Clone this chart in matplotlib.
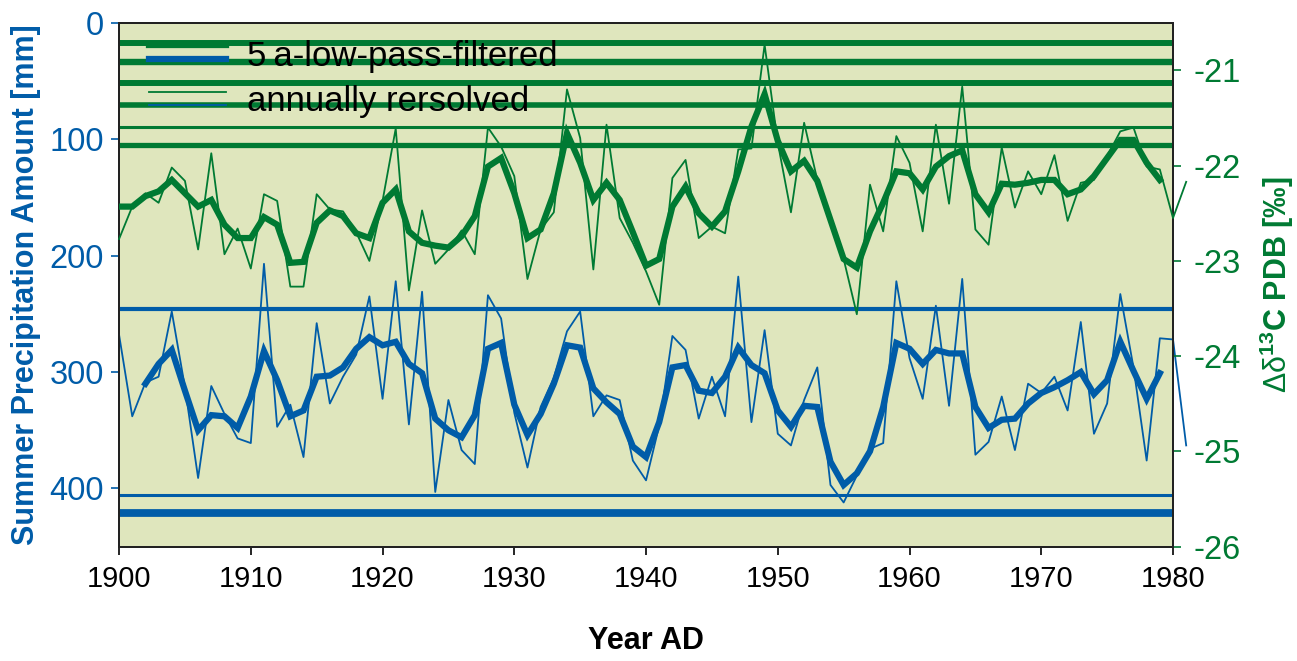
import numpy as np
import matplotlib
matplotlib.use('Agg')
import matplotlib.pyplot as plt

plt.rcParams['font.family'] = ['Liberation Sans', 'DejaVu Sans']
plt.rcParams['axes.unicode_minus'] = False
plt.rcParams['mathtext.fontset'] = 'custom'
plt.rcParams['mathtext.rm'] = 'Liberation Sans'
plt.rcParams['mathtext.bf'] = 'Liberation Sans:bold'
plt.rcParams['mathtext.it'] = 'Liberation Sans:italic'

GREEN = '#007a33'
BLUE = '#005ca8'
BG = '#dfe6bd'

# annual series, 1900-1981
years_annual = list(range(1900, 1982))
d13c_annual = [
    -22.77, -22.43, -22.29, -22.39, -22.02, -22.16, -22.88, -21.87, -22.93, -22.66,
    -23.08, -22.30, -22.37, -23.27, -23.27, -22.30, -22.46, -22.48, -22.70, -23.00,
    -22.37, -21.61, -23.31, -22.47, -23.03, -22.88, -22.68, -22.93, -21.60, -21.80,
    -22.11, -23.19, -22.67, -22.49, -21.20, -21.71, -23.09, -21.57, -22.55, -22.81,
    -23.11, -23.46, -22.13, -21.94, -22.76, -22.64, -22.71, -21.83, -21.82, -20.73,
    -21.76, -22.49, -21.55, -22.15, -22.53, -22.98, -23.56, -22.20, -22.69, -21.69,
    -21.97, -22.69, -21.57, -22.40, -21.17, -22.67, -22.83, -21.81, -22.44, -22.06,
    -22.30, -21.89, -22.58, -22.18, -22.15, -21.90, -21.64, -21.60, -22.01, -22.04,
    -22.55, -22.17,
]
precip_annual = [
    268, 338, 309, 304, 248, 313, 391, 312, 336, 357,
    361, 207, 347, 328, 373, 258, 327, 304, 285, 235,
    323, 222, 345, 231, 403, 324, 367, 379, 234, 254,
    335, 382, 330, 305, 265, 248, 338, 320, 324, 376,
    393, 346, 269, 281, 340, 304, 338, 218, 343, 264,
    353, 363, 324, 296, 397, 412, 389, 366, 361, 222,
    288, 323, 243, 329, 220, 371, 360, 321, 367, 310,
    318, 304, 333, 257, 353, 327, 233, 296, 376, 271,
    272, 363,
]

# 5-year low-pass filtered series
years_d13c_filt = list(range(1900, 1980))
d13c_filt = [
    -22.43, -22.43, -22.32, -22.27, -22.15, -22.29, -22.43, -22.36, -22.62, -22.76,
    -22.76, -22.54, -22.62, -23.02, -23.01, -22.60, -22.47, -22.53, -22.71, -22.76,
    -22.39, -22.25, -22.69, -22.81, -22.84, -22.86, -22.74, -22.53, -22.01, -21.92,
    -22.29, -22.76, -22.67, -22.29, -21.66, -21.97, -22.36, -22.18, -22.36, -22.70,
    -23.05, -22.98, -22.43, -22.22, -22.50, -22.64, -22.48, -22.06, -21.59, -21.25,
    -21.74, -22.06, -21.95, -22.16, -22.57, -22.98, -23.07, -22.69, -22.39, -22.06,
    -22.08, -22.25, -22.01, -21.90, -21.84, -22.30, -22.49, -22.19, -22.20, -22.18,
    -22.15, -22.15, -22.30, -22.25, -22.11, -21.92, -21.73, -21.73, -21.97, -22.15,
]
years_precip_filt = list(range(1902, 1980))
precip_filt = [
    310, 293, 281, 316, 350, 337, 338, 348,
    321, 282, 307, 338, 333, 304, 303, 296, 280, 270,
    277, 274, 293, 301, 340, 350, 356, 337, 280, 275,
    328, 354, 336, 310, 277, 279, 314, 326, 336, 364,
    373, 343, 296, 294, 316, 318, 304, 279, 294, 301,
    333, 347, 329, 330, 377, 397, 387, 368, 330, 275,
    280, 293, 281, 284, 284, 330, 348, 341, 340, 327,
    318, 313, 307, 300, 319, 307, 274, 299, 323, 301,
]

# horizontal reference lines
d13c_hlines = [-20.71, -20.91, -21.13, -21.36, -21.59, -21.78]
d13c_hline_widths = [4.3, 4.6, 4.3, 4.0, 2.2, 3.8]
precip_hlines = [246, 406, 421]
precip_hline_widths = [3.0, 2.2, 5.6]

fig = plt.figure(figsize=(12.97, 6.61), dpi=100)
ax = fig.add_axes([0.0918, 0.1729, 0.8126, 0.7927])
ax.set_facecolor(BG)
ax2 = ax.twinx()

for y, w in zip(precip_hlines, precip_hline_widths):
    ax.axhline(y, color=BLUE, lw=w, zorder=2)
ax.plot(years_annual, precip_annual, color=BLUE, lw=1.3, zorder=3, clip_on=False)
ax.plot(years_precip_filt, precip_filt, color=BLUE, lw=4.5, zorder=4,
        solid_joinstyle='miter')

for y, w in zip(d13c_hlines, d13c_hline_widths):
    ax2.axhline(y, color=GREEN, lw=w, zorder=2)
ax2.plot(years_annual, d13c_annual, color=GREEN, lw=1.3, zorder=3, clip_on=False)
ax2.plot(years_d13c_filt, d13c_filt, color=GREEN, lw=4.5, zorder=4,
         solid_joinstyle='miter')

ax.set_xlim(1900, 1980)
ax.set_ylim(450, 0)
ax2.set_ylim(-26, -20.5)

ax.set_xticks(range(1900, 1981, 10))
ax.set_yticks([0, 100, 200, 300, 400])
ax2.set_yticks([-26, -25, -24, -23, -22, -21])

ax.tick_params(axis='x', labelsize=21, length=6, width=1.2, pad=7, colors='black')
ax.tick_params(axis='y', labelsize=23.5, length=6, width=1.2, pad=5, colors=BLUE)
ax2.tick_params(axis='y', labelsize=23.5, length=6, width=1.2, pad=9, colors=GREEN)

for a in (ax, ax2):
    for s in a.spines.values():
        s.set_color('#222222')
        s.set_linewidth(1.4)

ax.set_xlabel('Year AD', fontsize=22, fontweight='bold')
ax.xaxis.set_label_coords(0.5, -0.151)
ax.set_ylabel('Summer Precipitation Amount [mm]', fontsize=22, fontweight='bold',
              color=BLUE)
ax.yaxis.set_label_coords(-0.074, 0.5)
ax2.set_ylabel(r'$\mathrm{\Delta\delta}^{\mathbf{13}}$C PDB [‰]', fontsize=22,
               fontweight='bold', color=GREEN)
ax2.yaxis.set_label_coords(1.08, 0.5)

# legend: each entry shows a green and a blue sample line
tr = ax2.transAxes
ax2.plot([0.0282, 0.1015], [0.9574, 0.9574], color=GREEN, lw=4.5, transform=tr, zorder=5)
ax2.plot([0.0282, 0.1015], [0.9300, 0.9300], color=BLUE, lw=4.5, transform=tr, zorder=5)
ax2.plot([0.0282, 0.1015], [0.8671, 0.8671], color=GREEN, lw=1.3, transform=tr, zorder=5)
ax2.plot([0.0282, 0.1015], [0.8429, 0.8429], color=BLUE, lw=1.3, transform=tr, zorder=5)
ax2.text(0.1214, 0.9172, '5\u2009a-low-pass-filtered', transform=tr, fontsize=25,
         va='baseline', ha='left', color='black', zorder=6)
ax2.text(0.1214, 0.8321, 'annually rersolved', transform=tr, fontsize=25,
         va='baseline', ha='left', color='black', zorder=6)

fig.savefig('out.png', dpi=100)
